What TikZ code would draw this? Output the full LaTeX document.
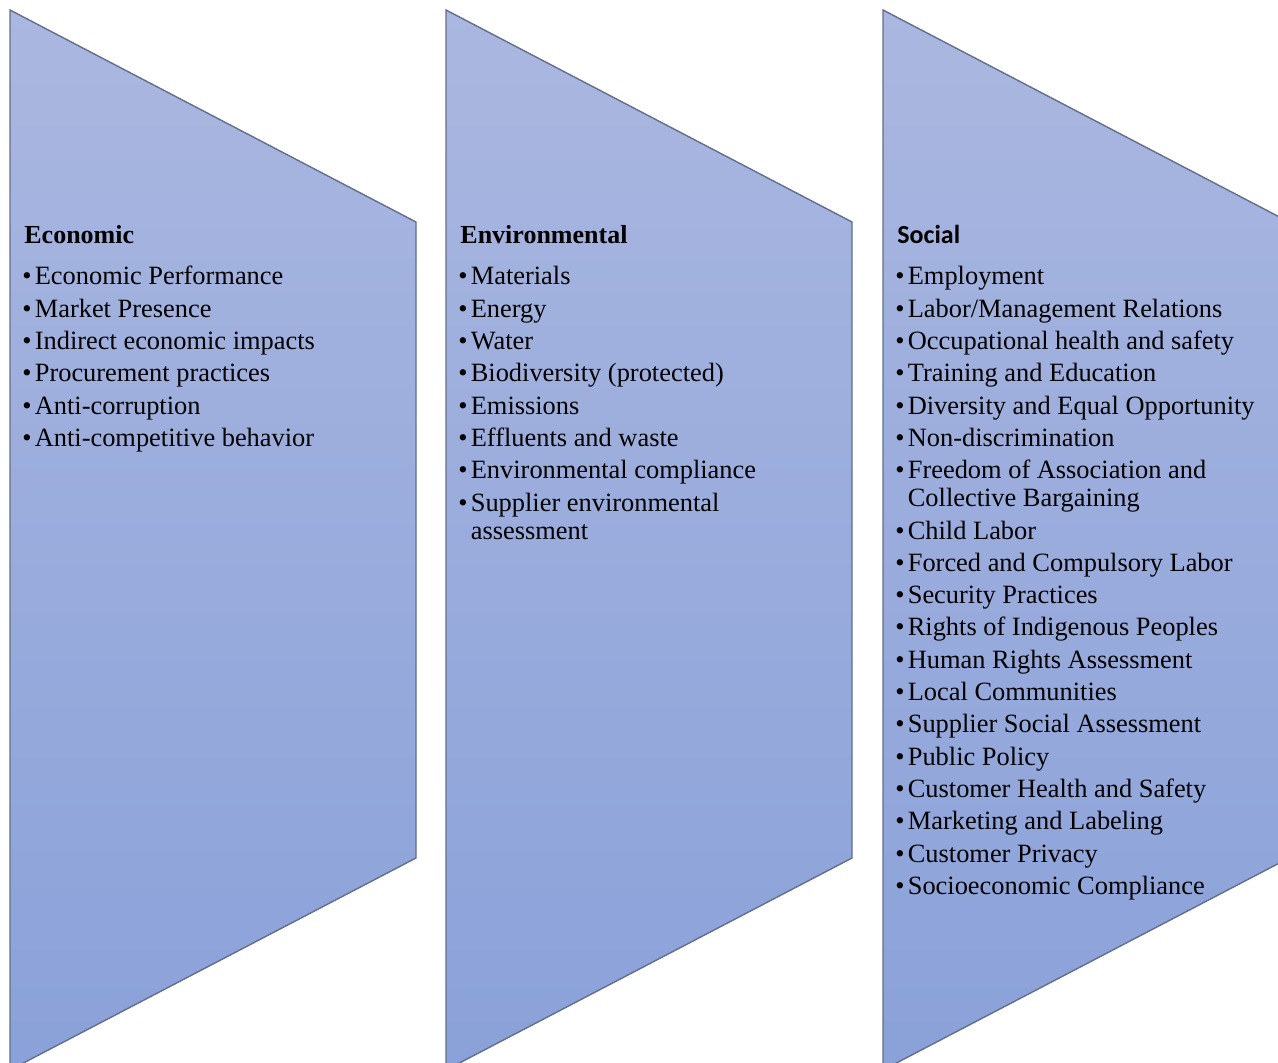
\documentclass[tikz,border=0pt]{standalone}
\usepackage{fontspec}
\setmainfont{Liberation Serif}[BoldFont={Liberation Serif Bold}]
\newfontfamily\calibri{Carlito}
\usetikzlibrary{positioning}

\definecolor{paneltop}{RGB}{170,183,224}
\definecolor{panelbot}{RGB}{138,161,217}
\definecolor{paneledge}{RGB}{98,110,138}

% bullet list set as a two column table, first row on the baseline
\newcommand{\blist}[1]{\begin{tabular}[t]{@{}l@{\hspace{1.6pt}}l@{}}#1\end{tabular}}

\begin{document}
\begin{tikzpicture}[x=0.5pt, y=-0.5pt,
  panel/.style={draw=paneledge, line width=0.7pt, top color=paneltop, bottom color=panelbot},
  head/.style={anchor=base west, inner sep=0pt, font=\fontsize{13}{14}\selectfont\bfseries},
  list/.style={anchor=base west, inner sep=0pt, font=\fontsize{13.2}{14}\selectfont}]

  \useasboundingbox (0,0) rectangle (1278,1063);

  % the three chevron panels
  \foreach \x in {10,446,883}
    \shade[panel] (\x,10) -- ++(406,212) -- ++(0,636) -- ++(-406,212) -- cycle;

  \node[head] (eco) at (24,244) {Economic};
  \node[list] (eco-list) at ([shift={(-2,41)}]eco.base west) {\blist{%
    \textbullet & Economic Performance\\[2.15pt]
    \textbullet & Market Presence\\[2.15pt]
    \textbullet & Indirect economic impacts\\[2.15pt]
    \textbullet & Procurement practices\\[2.15pt]
    \textbullet & Anti-corruption\\[2.15pt]
    \textbullet & Anti-competitive behavior}};

  \node[head] (env) at (460,244) {Environmental};
  \node[list] (env-list) at ([shift={(-2,41)}]env.base west) {\blist{%
    \textbullet & Materials\\[2.15pt]
    \textbullet & Energy\\[2.15pt]
    \textbullet & Water\\[2.15pt]
    \textbullet & Biodiversity (protected)\\[2.15pt]
    \textbullet & Emissions\\[2.15pt]
    \textbullet & Effluents and waste\\[2.15pt]
    \textbullet & Environmental compliance\\[2.15pt]
    \textbullet & Supplier environmental\\
                & assessment}};

  \node[head, font=\fontsize{13}{14}\selectfont\calibri\bfseries] (soc) at (897,244) {Social};
  \node[list] (soc-list) at ([shift={(-2,41)}]soc.base west) {\blist{%
    \textbullet & Employment\\[2.15pt]
    \textbullet & Labor/Management Relations\\[2.15pt]
    \textbullet & Occupational health and safety\\[2.15pt]
    \textbullet & Training and Education\\[2.15pt]
    \textbullet & Diversity and Equal Opportunity\\[2.15pt]
    \textbullet & Non-discrimination\\[2.15pt]
    \textbullet & Freedom of Association and\\
                & Collective Bargaining\\[2.15pt]
    \textbullet & Child Labor\\[2.15pt]
    \textbullet & Forced and Compulsory Labor\\[2.15pt]
    \textbullet & Security Practices\\[2.15pt]
    \textbullet & Rights of Indigenous Peoples\\[2.15pt]
    \textbullet & Human Rights Assessment\\[2.15pt]
    \textbullet & Local Communities\\[2.15pt]
    \textbullet & Supplier Social Assessment\\[2.15pt]
    \textbullet & Public Policy\\[2.15pt]
    \textbullet & Customer Health and Safety\\[2.15pt]
    \textbullet & Marketing and Labeling\\[2.15pt]
    \textbullet & Customer Privacy\\[2.15pt]
    \textbullet & Socioeconomic Compliance}};
\end{tikzpicture}
\end{document}
